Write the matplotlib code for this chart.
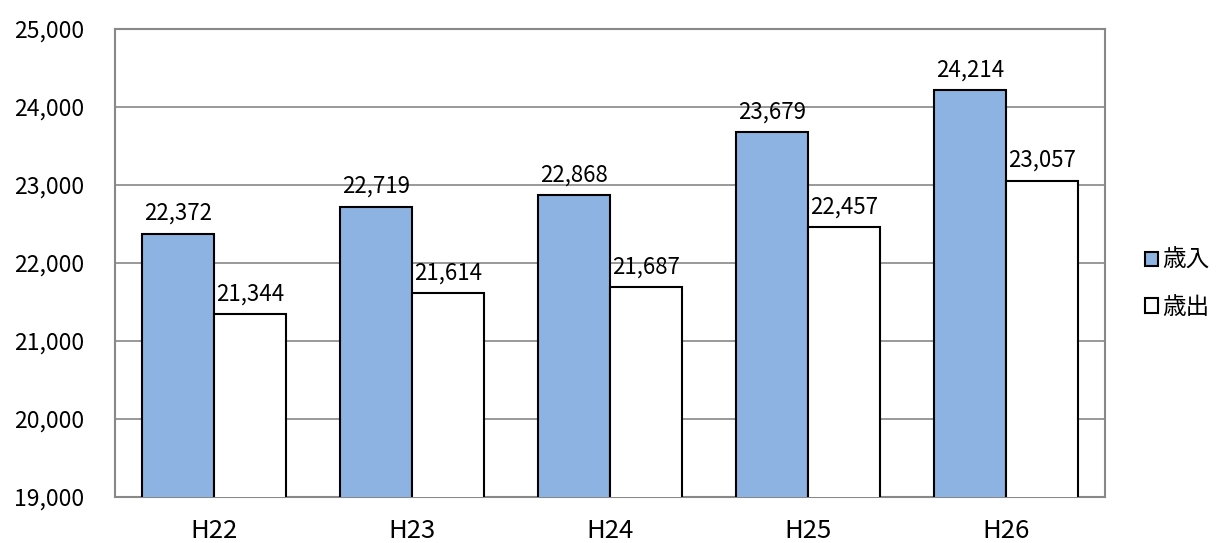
import matplotlib
matplotlib.use("Agg")
import matplotlib.pyplot as plt
from matplotlib.patches import Patch
import numpy as np

plt.rcParams['font.family'] = ['Noto Sans CJK JP', 'DejaVu Sans']

categories = ["H22", "H23", "H24", "H25", "H26"]
revenue = [22372, 22719, 22868, 23679, 24214]   # 歳入
expenditure = [21344, 21614, 21687, 22457, 23057]  # 歳出
series_names = ["歳入", "歳出"]
yticks = [19000, 20000, 21000, 22000, 23000, 24000, 25000]

fig = plt.figure(figsize=(12.24, 5.43), dpi=100)
ax = fig.add_axes([115/1224, 1 - 497/543, 990/1224, 468/543])

x = np.arange(len(categories))
w = 0.366
blue = "#8DB3E2"
b1 = ax.bar(x - w/2, revenue, w, color=blue, edgecolor="black", linewidth=1.5, zorder=3)
b2 = ax.bar(x + w/2, expenditure, w, color="white", edgecolor="black", linewidth=1.5, zorder=3)

for bars, vals in ((b1, revenue), (b2, expenditure)):
    for r, v in zip(bars, vals):
        ax.annotate(f"{v:,}", (r.get_x() + r.get_width()/2, v), xytext=(0, 10),
                    textcoords="offset points", ha="center", va="baseline", fontsize=16)

ax.set_ylim(19000, 25000)
ax.set_xlim(-0.5, len(categories) - 0.5)
ax.set_yticks(yticks)
ax.set_yticklabels([f"{t:,}" for t in yticks], fontsize=16.5)
ax.set_xticks(x)
ax.set_xticklabels(categories, fontsize=18.5)
ax.tick_params(length=0)
ax.tick_params(axis='x', pad=15)
ax.tick_params(axis='y', pad=22)
ax.yaxis.grid(True, color="#888888", linewidth=1.2, zorder=0)
for s in ax.spines.values():
    s.set_color("#888888")
    s.set_linewidth(1.5)

handles = [Patch(facecolor=blue, edgecolor="black", linewidth=1.5),
           Patch(facecolor="white", edgecolor="black", linewidth=1.5)]
fig.legend(handles, series_names, loc="center left", bbox_to_anchor=(1133/1224, 1 - 284/543),
           frameon=False, fontsize=17, handlelength=0.55, handleheight=0.55,
           handletextpad=0.2, labelspacing=1.0, borderpad=0)

fig.savefig("out.png", dpi=100)
